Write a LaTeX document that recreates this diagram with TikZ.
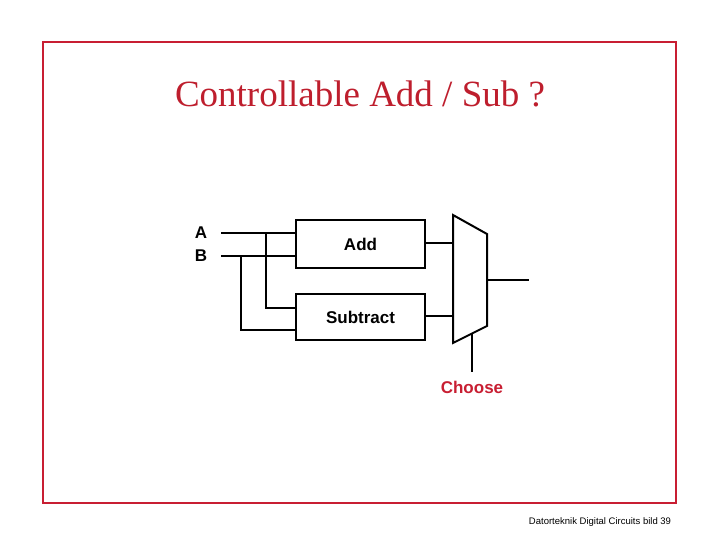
\documentclass[tikz,border=0pt]{standalone}
\usepackage{fontspec}
\setmainfont{Liberation Serif}
\setsansfont{Liberation Sans}
\definecolor{fr}{RGB}{200,30,50}
\definecolor{tr}{RGB}{190,30,45}
\begin{document}
\begin{tikzpicture}[x=1pt,y=-1pt,
 wire/.style={line width=2pt},
 blk/.style={draw,line width=2pt,inner sep=0pt,minimum width=129pt,anchor=north west,font=\sffamily\bfseries\fontsize{17}{20}\selectfont},
 lbl/.style={font=\sffamily\bfseries\fontsize{17}{20}\selectfont}]
\useasboundingbox (0,0) rectangle (720,540);
\draw[fr,line width=2pt] (43,42) rectangle (676,503);
\node[tr,font=\fontsize{37}{42}\selectfont] (title) at (360,94) {Controllable Add / Sub ?};
\node[lbl] (A) at (201,233) {A};
\node[lbl] (B) at (201,256) {B};
\node[blk,minimum height=48pt] (add) at (295,219) {Add};
\node[blk,minimum height=46pt] (sub) at (295,293) {Subtract};
\coordinate (a0) at (221,233); \coordinate (b0) at (221,256);
\draw[wire] (a0) -- (add.west |- a0);
\draw[wire] (b0) -- (add.west |- b0);
\draw[wire] (266,233) |- (sub.west |- 0,308);
\draw[wire] (241,256) |- (sub.west |- 0,330);
\draw[wire,line join=miter] (453,215) -- (487,234) -- (487,326) -- (453,343) -- cycle;
\coordinate (m1) at (453,243); \coordinate (m2) at (453,316);
\draw[wire] (add.east |- m1) -- (m1);
\draw[wire] (sub.east |- m2) -- (m2);
\coordinate (mo) at (487,280); \coordinate (out) at (529,280);
\draw[wire] (mo) -- (out);
\node[lbl,fr] (ch) at (472,387) {Choose};
\draw[wire] (472,334) -- (472,372);
\node[font=\sffamily\fontsize{9.5}{11}\selectfont] (foot) at (600,522) {Datorteknik Digital Circuits bild 39};
\end{tikzpicture}
\end{document}
